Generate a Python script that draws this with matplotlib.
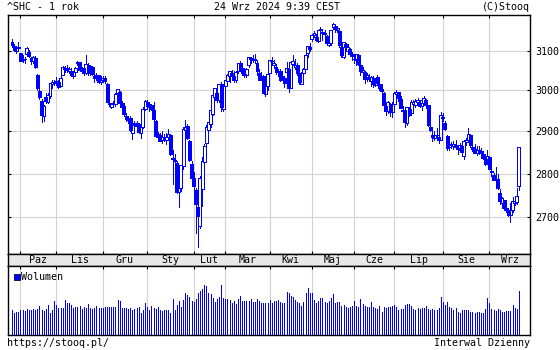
import numpy as np
import pandas as pd
import matplotlib
matplotlib.use("Agg")
import matplotlib.pyplot as plt
from matplotlib.patches import Rectangle
from matplotlib.ticker import FixedLocator, NullLocator, NullFormatter

TITLE_LEFT = "^SHC - 1 rok"
TITLE_MID = "24 Wrz 2024 9:39 CEST"
TITLE_RIGHT = "(C)Stooq"
FOOT_LEFT = "https://stooq.pl/"
FOOT_RIGHT = "Interwal Dzienny"
VOLUME_LABEL = "Wolumen"

START, END = "2023-09-25", "2024-09-24"
HOLIDAYS = ["2023-09-29", "2023-10-02", "2023-10-03", "2023-10-04", "2023-10-05",
            "2023-10-06", "2024-01-01", "2024-02-09", "2024-02-12", "2024-02-13",
            "2024-02-14", "2024-02-15", "2024-02-16", "2024-04-04", "2024-04-05",
            "2024-05-01", "2024-05-02", "2024-05-03", "2024-06-10", "2024-09-16",
            "2024-09-17"]
MONTH_LABELS = ["Paz", "Lis", "Gru", "Sty", "Lut", "Mar", "Kwi", "Maj", "Cze",
                "Lip", "Sie", "Wrz"]
PRICE_TICKS = [2700, 2800, 2900, 3000, 3100]

OPEN = [
    3124, 3114, 3100, 3108,
    3096, 3079, 3080, 3092, 3097, 3083, 3075, 3083, 3040, 2998, 2975, 2936, 2984, 2971, 2986, 3016, 3022,
    3020, 3020, 3012, 3040, 3054, 3057, 3048, 3050, 3035, 3047, 3068, 3071, 3049, 3056, 3043, 3064, 3043, 3060, 3037, 3030, 3038, 3020,
    3027, 3032, 3017, 2970, 2960, 2966, 2966, 2993, 2995, 2968, 2962, 2938, 2927, 2933, 2895, 2920, 2912, 2917, 2896, 2911, 2954,
    2972, 2958, 2964, 2951, 2925, 2887, 2892, 2878, 2880, 2878, 2886, 2892, 2836, 2830, 2825, 2757, 2766, 2817, 2902, 2913, 2877, 2823,
    2789, 2763, 2723, 2680, 2765, 2828, 2873, 2902, 2918, 2942, 2983, 2994, 2976, 3014, 2955,
    3012, 3024, 3036, 3043, 3036, 3027, 3048, 3068, 3056, 3041, 3038, 3064, 3081, 3076, 3079, 3068, 3044, 3028, 3035, 2990, 3011,
    3044, 3074, 3064, 3060, 3047, 3050, 3035, 3030, 3046, 3053, 3007, 3067, 3059, 3063, 3043, 3016, 3043, 3054, 3094, 3111,
    3130, 3142, 3136, 3126, 3156, 3147, 3145, 3139, 3115, 3120, 3162, 3165, 3155, 3153, 3111, 3085, 3118, 3100, 3104, 3092,
    3080, 3077, 3089, 3064, 3046, 3046, 3029, 3034, 3024, 3032, 3013, 3033, 3016, 3003, 2994, 2961, 2950, 2966, 2946,
    2967, 2992, 2995, 2979, 2951, 2951, 2919, 2955, 2945, 2966, 2965, 2971, 2970, 2961, 2970, 2976, 2963, 2910, 2892, 2883, 2890, 2886, 2880,
    2935, 2921, 2888, 2862, 2866, 2864, 2866, 2859, 2855, 2865, 2841, 2874, 2879, 2890, 2863, 2857, 2847, 2856, 2852, 2845, 2834, 2825,
    2838, 2806, 2796, 2784, 2787, 2755, 2733, 2738, 2721, 2716, 2705, 2717, 2733, 2735, 2771,
]
HIGH = [
    3131, 3119, 3109, 3122,
    3096, 3089, 3085, 3110, 3102, 3085, 3088, 3087, 3042, 3008, 2978, 2964, 2993, 2993, 3019, 3026, 3025,
    3034, 3025, 3036, 3061, 3062, 3064, 3058, 3056, 3049, 3058, 3075, 3073, 3060, 3060, 3090, 3068, 3064, 3061, 3040, 3043, 3040, 3037,
    3037, 3036, 3018, 2983, 2969, 2975, 2994, 3004, 2998, 2975, 2968, 2944, 2936, 2938, 2920, 2925, 2924, 2920, 2920, 2960, 2976,
    2976, 2970, 2966, 2971, 2927, 2899, 2896, 2900, 2893, 2896, 2905, 2894, 2856, 2846, 2829, 2789, 2821, 2910, 2928, 2918, 2879, 2830,
    2803, 2767, 2730, 2795, 2838, 2869, 2914, 2923, 2952, 2989, 3006, 3000, 3016, 3020, 3016,
    3027, 3041, 3048, 3051, 3049, 3050, 3069, 3074, 3061, 3051, 3057, 3085, 3085, 3090, 3091, 3077, 3055, 3046, 3039, 3018, 3044,
    3078, 3085, 3076, 3066, 3055, 3053, 3049, 3036, 3071, 3053, 3074, 3089, 3079, 3068, 3052, 3047, 3056, 3093, 3114, 3120,
    3145, 3152, 3144, 3155, 3163, 3152, 3154, 3141, 3126, 3155, 3174, 3167, 3163, 3155, 3115, 3124, 3121, 3117, 3107, 3098,
    3091, 3092, 3093, 3069, 3058, 3050, 3043, 3041, 3037, 3036, 3031, 3039, 3024, 3015, 2995, 2966, 2973, 2969, 2971,
    2997, 3002, 2996, 2985, 2962, 2952, 2960, 2960, 2976, 2977, 2979, 2981, 2977, 2982, 2987, 2980, 2964, 2917, 2900, 2900, 2908, 2893, 2946,
    2945, 2925, 2891, 2873, 2874, 2876, 2878, 2864, 2873, 2875, 2880, 2885, 2907, 2893, 2869, 2870, 2864, 2865, 2861, 2854, 2846, 2855,
    2840, 2815, 2801, 2815, 2800, 2765, 2746, 2740, 2732, 2722, 2733, 2745, 2740, 2766, 2863,
]
LOW = [
    3111, 3100, 3095, 3105,
    3074, 3072, 3069, 3091, 3085, 3066, 3070, 3057, 3002, 2979, 2923, 2924, 2970, 2968, 2981, 3006, 3013,
    3013, 3005, 3010, 3038, 3046, 3047, 3043, 3035, 3030, 3040, 3063, 3048, 3044, 3038, 3042, 3040, 3040, 3038, 3020, 3026, 3018, 3015,
    3021, 3019, 2971, 2962, 2956, 2960, 2962, 2988, 2966, 2953, 2938, 2926, 2920, 2900, 2882, 2909, 2905, 2896, 2885, 2908, 2951,
    2961, 2950, 2952, 2928, 2886, 2880, 2876, 2873, 2876, 2870, 2882, 2844, 2775, 2820, 2755, 2724, 2760, 2811, 2898, 2881, 2829, 2788,
    2761, 2666, 2635, 2677, 2725, 2820, 2863, 2895, 2910, 2939, 2981, 2972, 2972, 2950, 2950,
    3006, 3016, 3021, 3036, 3021, 3020, 3045, 3050, 3039, 3034, 3033, 3059, 3068, 3072, 3070, 3040, 3025, 3028, 2993, 2985, 3000,
    3044, 3065, 3057, 3042, 3035, 3024, 3030, 3009, 3044, 2996, 3005, 3064, 3055, 3038, 3015, 3016, 3029, 3053, 3085, 3101,
    3126, 3137, 3127, 3123, 3144, 3129, 3139, 3117, 3114, 3116, 3157, 3148, 3148, 3110, 3085, 3082, 3101, 3097, 3087, 3078,
    3070, 3065, 3064, 3040, 3043, 3019, 3024, 3023, 3011, 3008, 3011, 3014, 3002, 2993, 2962, 2939, 2944, 2938, 2934,
    2959, 2985, 2975, 2957, 2946, 2910, 2915, 2936, 2944, 2962, 2959, 2964, 2958, 2951, 2966, 2956, 2912, 2900, 2877, 2880, 2882, 2873, 2879,
    2926, 2903, 2855, 2855, 2860, 2857, 2859, 2846, 2853, 2850, 2834, 2868, 2876, 2862, 2853, 2847, 2844, 2846, 2843, 2833, 2821, 2822,
    2810, 2794, 2784, 2780, 2765, 2730, 2720, 2716, 2712, 2703, 2690, 2711, 2728, 2731, 2763,
]
CLOSE = [
    3115.6, 3102.3, 3107.3, 3110.5,
    3075.2, 3076.0, 3078.4, 3107.9, 3088.1, 3073.8, 3083.5, 3058.7, 3005.4, 2983.1, 2939.3, 2962.2, 2974.1, 2988.3, 3017.8, 3021.6, 3018.8,
    3023.1, 3009.4, 3030.8, 3058.4, 3057.3, 3052.4, 3053.3, 3038.6, 3046.5, 3056.1, 3072.8, 3050.9, 3054.4, 3043.6, 3067.9, 3043.9, 3061.9, 3040.9, 3031.7, 3038.6, 3021.7, 3029.7,
    3031.6, 3022.9, 2972.3, 2966.2, 2966.2, 2969.6, 2991.4, 3003.4, 2968.9, 2958.9, 2942.6, 2930.8, 2932.4, 2902.1, 2918.7, 2914.8, 2918.8, 2898.9, 2914.6, 2954.7, 2974.9,
    2962.3, 2967.3, 2954.4, 2929.2, 2887.5, 2893.3, 2877.7, 2886.7, 2882.0, 2886.3, 2894.0, 2845.8, 2832.9, 2832.3, 2756.3, 2770.7, 2820.8, 2906.1, 2910.2, 2883.4, 2830.5, 2788.6,
    2770.7, 2730.2, 2702.2, 2789.5, 2829.7, 2865.9, 2910.5, 2922.7, 2951.0, 2988.4, 3004.9, 2977.0, 3015.5, 2957.9, 3015.2,
    3027.0, 3039.9, 3047.8, 3039.9, 3027.4, 3046.0, 3068.5, 3055.9, 3043.8, 3038.2, 3054.6, 3084.9, 3079.7, 3077.1, 3077.1, 3048.0, 3026.3, 3031.5, 2993.1, 3010.7, 3041.2,
    3077.4, 3075.0, 3069.3, 3047.1, 3048.5, 3027.3, 3034.3, 3019.5, 3057.4, 3007.1, 3071.4, 3074.2, 3065.3, 3044.6, 3022.0, 3044.8, 3052.9, 3088.6, 3113.0, 3104.8,
    3140.7, 3147.7, 3128.5, 3154.3, 3154.6, 3148.0, 3145.8, 3119.9, 3122.4, 3154.0, 3171.2, 3158.0, 3158.5, 3116.4, 3088.9, 3124.0, 3109.6, 3111.0, 3091.7, 3086.8,
    3078.5, 3091.2, 3065.4, 3048.8, 3051.3, 3028.1, 3037.5, 3028.9, 3032.6, 3015.9, 3030.2, 3018.1, 3005.4, 2998.1, 2963.1, 2950.0, 2972.5, 2945.9, 2967.4,
    2994.7, 2997.0, 2982.4, 2957.6, 2949.9, 2922.5, 2959.4, 2939.4, 2970.4, 2971.3, 2974.0, 2976.3, 2962.5, 2977.1, 2982.3, 2964.2, 2915.4, 2902.0, 2886.4, 2890.9, 2891.9, 2879.3, 2938.8,
    2932.4, 2905.3, 2860.7, 2867.3, 2869.9, 2869.8, 2862.2, 2858.2, 2868.0, 2850.7, 2877.4, 2879.4, 2893.7, 2866.7, 2856.6, 2848.8, 2854.4, 2855.5, 2848.8, 2837.4, 2823.1, 2842.2,
    2811.0, 2803.0, 2784.3, 2788.2, 2765.8, 2736.5, 2744.2, 2721.8, 2717.1, 2704.1, 2717.3, 2736.0, 2736.8, 2748.9, 2862.0,
]
VOLUME = [
    240, 210, 220, 220,
    240, 240, 230, 250, 240, 240, 250, 240, 250, 280, 240, 230, 250, 290, 210, 240, 330,
    290, 260, 260, 260, 340, 310, 310, 290, 260, 270, 270, 280, 250, 270, 260, 300, 260, 250, 260, 280, 260, 260,
    260, 270, 270, 270, 270, 270, 270, 340, 330, 260, 260, 260, 250, 260, 240, 250, 260, 270, 210, 240, 310,
    270, 240, 280, 260, 250, 270, 240, 230, 240, 240, 240, 210, 350, 240, 290, 330, 270, 340, 410, 390, 370, 330,
    320, 350, 410, 430, 450, 490, 480, 410, 400, 360, 320, 350, 370, 490, 360,
    350, 350, 340, 310, 330, 300, 350, 380, 330, 330, 330, 330, 350, 320, 320, 350, 330, 310, 310, 310, 310,
    340, 310, 330, 330, 340, 320, 310, 310, 420, 410, 380, 370, 340, 320, 310, 280, 320, 410, 460, 410,
    410, 340, 310, 330, 360, 360, 320, 310, 330, 360, 400, 310, 320, 320, 280, 290, 270, 260, 270, 280,
    330, 280, 270, 350, 300, 280, 270, 270, 320, 270, 260, 250, 280, 220, 270, 260, 270, 270, 280,
    290, 270, 240, 250, 250, 290, 300, 300, 280, 250, 240, 260, 250, 260, 260, 280, 250, 240, 250, 240, 240, 260, 370,
    320, 290, 320, 270, 260, 240, 260, 220, 210, 240, 240, 240, 240, 220, 220, 210, 220, 220, 210, 210, 250, 360,
    310, 250, 240, 230, 250, 240, 220, 220, 230, 230, 230, 290, 260, 250, 430,
]

W, H = 560, 350
BLUE = "#0000ff"
GRID = "#d3d3d3"
FONT = dict(family="DejaVu Sans Mono", size=7.2, color="black")
PX = 0.72  # one pixel in points at 100 dpi

dates = pd.bdate_range(START, END)
dates = dates[~dates.isin(pd.to_datetime(HOLIDAYS))]
n = len(dates)
assert n == len(OPEN) == len(HIGH) == len(LOW) == len(CLOSE) == len(VOLUME)
x = np.arange(n)
per = dates.to_period("M")
month_starts = [i for i in range(1, n) if per[i] != per[i - 1]]

# pixel mapping of the index axis: index 0 -> px 12, step 2.112 px
X0, DX = 12.0, 2.112
XMIN = (8 - X0) / DX
XMAX = (530 - X0) / DX


def fx(px):
    return px / W


def fy(py):
    return 1 - py / H


fig = plt.figure(figsize=(W / 100, H / 100), dpi=100)
fig.patch.set_facecolor("white")

ax = fig.add_axes([fx(8), fy(254), 522 / W, 239 / H])
axb = fig.add_axes([fx(8), fy(266), 522 / W, 12 / H])
axv = fig.add_axes([fx(8), fy(335), 522 / W, 69 / H])

# ---------- price panel ----------
o = np.array(OPEN, float)
h = np.array(HIGH, float)
l = np.array(LOW, float)
c = np.array(CLOSE, float)
up = c >= o

ax.vlines(x, l, h, color=BLUE, lw=PX, antialiased=False, zorder=3)
bot = np.minimum(o, c)
hei = np.maximum(np.abs(c - o), 0.8)
ax.bar(x[up], hei[up], bottom=bot[up], width=1.4, facecolor="white",
       edgecolor=BLUE, linewidth=PX, antialiased=False, zorder=4)
ax.bar(x[~up], hei[~up], bottom=bot[~up], width=1.4, facecolor=BLUE,
       edgecolor=BLUE, linewidth=PX, antialiased=False, zorder=4)

ax.set_yscale("log")
ax.set_ylim(2619, 3194)
ax.set_xlim(XMIN, XMAX)
ax.yaxis.set_major_locator(FixedLocator(PRICE_TICKS))
ax.yaxis.set_minor_locator(NullLocator())
ax.yaxis.set_minor_formatter(NullFormatter())
ax.set_yticklabels([str(t) for t in PRICE_TICKS], fontdict=FONT)
ax.set_xticks(month_starts)
ax.set_xticklabels([])
ax.tick_params(axis="x", direction="in", length=2.5, width=0.8, top=True,
               bottom=True, labelbottom=False)
ax.tick_params(axis="y", direction="in", length=2.5, width=0.8, left=True,
               right=True, labelleft=False, labelright=True, pad=3.5)
ax.grid(True, color=GRID, lw=0.8)
ax.set_axisbelow(True)
for s in ax.spines.values():
    s.set_linewidth(1.0)

# ---------- month band ----------
axb.set_facecolor("#e8e8e8")
axb.set_xlim(XMIN, XMAX)
axb.set_ylim(0, 12)
axb.set_xticks([])
axb.set_yticks([])
for s in axb.spines.values():
    s.set_linewidth(1.0)
ends = month_starts[1:] + [XMAX]
for lab, s0, e0 in zip(MONTH_LABELS, month_starts, ends):
    axb.text((s0 + e0) / 2, 3.0, lab, ha="center", va="baseline", **FONT)

# ---------- volume panel ----------
axv.vlines(x, 0, VOLUME, color=BLUE, lw=PX, antialiased=False, zorder=3)
axv.set_xlim(XMIN, XMAX)
axv.set_ylim(-6, 684)
axv.set_yticks([])
axv.set_xticks(month_starts)
axv.set_xticklabels([])
axv.tick_params(axis="x", direction="in", length=2.5, width=0.8, top=True,
                bottom=False, labelbottom=False)
axv.grid(True, axis="x", color=GRID, lw=0.8)
axv.set_axisbelow(True)
for s in axv.spines.values():
    s.set_linewidth(1.0)

fig.patches.append(Rectangle((fx(14), fy(279.5)), 6 / W, 6 / H,
                             transform=fig.transFigure, facecolor=BLUE,
                             edgecolor="#000040", lw=0.6))
fig.text(fx(21), fy(280), VOLUME_LABEL, ha="left", va="baseline", **FONT)

# ---------- header / footer ----------
fig.text(fx(7), fy(10.3), TITLE_LEFT, ha="left", va="baseline", **FONT)
fig.text(fx(277.5), fy(10.3), TITLE_MID, ha="center", va="baseline", **FONT)
fig.text(fx(530), fy(10.3), TITLE_RIGHT, ha="right", va="baseline", **FONT)
fig.text(fx(7), fy(346), FOOT_LEFT, ha="left", va="baseline", **FONT)
fig.text(fx(530), fy(346), FOOT_RIGHT, ha="right", va="baseline", **FONT)

fig.savefig("out.png", dpi=100, facecolor="white")
